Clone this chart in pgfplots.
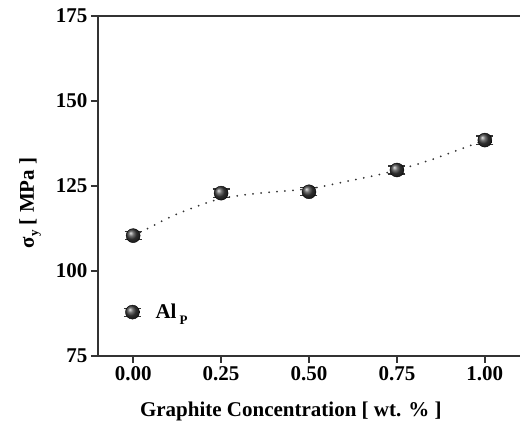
\documentclass[border=0pt]{standalone}
\usepackage{fontspec}
\setmainfont{Liberation Serif}
\usepackage{pgfplots}
\pgfplotsset{compat=1.18}
\definecolor{axc}{HTML}{333333}
\begin{document}
\begin{tikzpicture}
\useasboundingbox (-98pt,-69pt) rectangle (422pt,356pt);
\begin{axis}[
  scale only axis, width=422pt, height=340pt,
  at={(0,0)}, anchor=south west,
  xmin=-0.1, xmax=1.1, ymin=75, ymax=175,
  axis x line*=box, axis y line*=left,
  xtick={0,0.25,0.5,0.75,1}, ytick={75,100,125,150,175},
  xtick pos=bottom, ytick pos=left,
  tick align=outside, major tick length=7pt,
  axis line style={line width=1.6pt, axc},
  tick style={line width=1.4pt, axc},
  /pgf/number format/assume math mode=true,
  ticklabel style={font=\bfseries\fontsize{21}{21}\selectfont},
  xticklabel style={/pgf/number format/.cd, fixed, fixed zerofill, precision=2},
  yticklabel style={/pgf/number format/.cd, fixed, precision=0},
  xlabel={Graphite Concentration [ wt. \% ]},
  ylabel={σ\raisebox{-0.45ex}{\fontsize{13}{13}\selectfont y} [ MPa ]},
  label style={font=\bfseries\fontsize{21}{21}\selectfont},
  xlabel style={at={(axis description cs:0.457,-0.162)}, anchor=center},
  ylabel style={at={(axis description cs:-0.161,0.45)}, anchor=center},
  legend style={at={(axis cs:0,87.9)}, anchor=west, xshift=-13pt, draw=none, fill=none,
    font=\bfseries\fontsize{21}{21}\selectfont},
  legend image code/.code={
    \draw[line width=1.2pt, black!80] (-8.5pt,4pt)--(8.5pt,4pt) (-8.5pt,-4pt)--(8.5pt,-4pt);
    \shade[ball color=black!75] (0,0) circle (7pt);
  },
]
\addplot[forget plot, smooth, black!80, line width=2pt, line cap=round, dash pattern=on 0pt off 8pt]
  coordinates {(0,110.4) (0.04,112.4) (0.1,115.6) (0.16,118.2) (0.25,121.3) (0.36,122.9) (0.5,124.2) (0.6,126.2) (0.73,129.1) (0.85,132.8) (1.0,138.5)};
\addplot[only marks, mark=ball, mark size=7pt, mark options={ball color=black!75},
  error bars/.cd, y dir=both, y explicit, error mark=|,
  error mark options={mark size=8.5pt, line width=1.2pt, black!80},
  error bar style={line width=1pt, black!80}]
  coordinates {(0,110.4) +- (0,1.2) (0.25,122.9) +- (0,1.2) (0.5,123.3) +- (0,1.2) (0.75,129.7) +- (0,1.2) (1.0,138.5) +- (0,1.2)};
\addlegendentry{\hspace{12pt}Al\hspace{3pt}\raisebox{-0.6ex}{\fontsize{13}{13}\selectfont P}}
\end{axis}
\end{tikzpicture}
\end{document}
